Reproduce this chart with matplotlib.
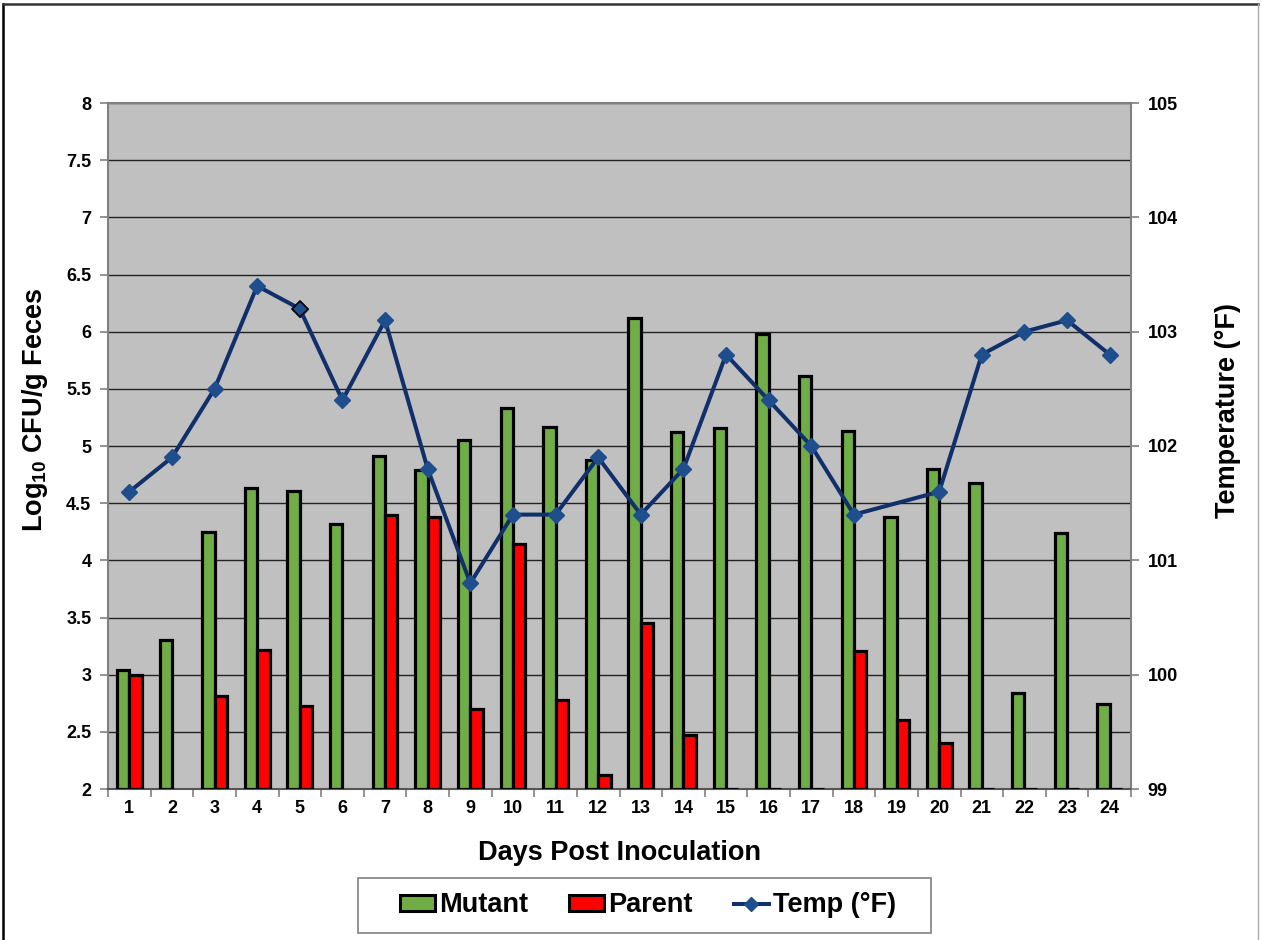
import matplotlib
matplotlib.use('Agg')
import matplotlib.pyplot as plt
import numpy as np
from matplotlib.patches import Patch, Rectangle
from matplotlib.lines import Line2D

plt.rcParams['font.family'] = ['Liberation Sans', 'DejaVu Sans']
plt.rcParams['font.weight'] = 'bold'
plt.rcParams['mathtext.fontset'] = 'custom'
plt.rcParams['mathtext.rm'] = 'Liberation Sans:bold'
plt.rcParams['mathtext.bf'] = 'Liberation Sans:bold'

days = list(range(1, 25))
mutant = [3.04, 3.30, 4.25, 4.63, 4.61, 4.32, 4.91, 4.79, 5.05, 5.33, 5.17, 4.88,
          6.12, 5.12, 5.16, 5.98, 5.61, 5.13, 4.38, 4.80, 4.68, 2.84, 4.24, 2.74]
parent = [3.00, None, 2.81, 3.22, 2.73, None, 4.40, 4.38, 2.70, 4.14, 2.78, 2.12,
          3.45, 2.47, 2.00, 2.00, 2.00, 3.21, 2.60, 2.40, 2.00, 2.00, 2.00, 2.00]
temp = [101.6, 101.9, 102.5, 103.4, 103.2, 102.4, 103.1, 101.8, 100.8, 101.4, 101.4, 101.9,
        101.4, 101.8, 102.8, 102.4, 102.0, 101.4, None, 101.6, 102.8, 103.0, 103.1, 102.8]

GREEN = '#70AD47'
RED = '#FF0000'
NAVY = '#112F6B'
MARK = '#1F4E8C'
BG = '#C0C0C0'

fig = plt.figure(figsize=(12.62, 9.40), dpi=100)
ax = fig.add_axes([108/1262, 1-789/940, (1131-108)/1262, (789-103)/940])
ax.set_facecolor(BG)

ymin, ymax = 2, 8
x = np.array(days, dtype=float)
w = 0.29
off = 0.145
mv = np.array(mutant, dtype=float)
ax.bar(x - off, mv - ymin, bottom=ymin, width=w, color=GREEN, edgecolor='black',
       linewidth=2.3, zorder=3)
pv = np.array([np.nan if v is None else v for v in parent], dtype=float)
ok = ~np.isnan(pv)
ax.bar(x[ok] + off, pv[ok] - ymin, bottom=ymin, width=w, color=RED, edgecolor='black',
       linewidth=2.3, zorder=3)

ax.set_xlim(0.5, 24.5)
ax.set_ylim(ymin, ymax)
ax.set_yticks(np.arange(2, 8.01, 0.5))
ax.set_yticklabels([('%g' % v) for v in np.arange(2, 8.01, 0.5)])
ax.yaxis.grid(True, color='#222222', linewidth=1.0, zorder=0)
ax.set_axisbelow(True)
ax.set_xticks(x)
ax.set_xticklabels([str(d) for d in days])
ax.set_xticks(np.arange(0.5, 24.51, 1), minor=True)
ax.tick_params(axis='x', which='major', length=0, pad=8, labelsize=13)
ax.tick_params(axis='x', which='minor', length=6, color='#808080', width=1.2)
ax.tick_params(axis='y', length=6, color='#808080', width=1.2, labelsize=13, pad=6)
for s in ['left', 'top', 'right']:
    ax.spines[s].set_color('#808080')
    ax.spines[s].set_linewidth(1.5)
ax.spines['bottom'].set_color('#555555')
ax.spines['bottom'].set_linewidth(1.5)

ax2 = ax.twinx()
ax2.set_ylim(99, 105)
ax2.set_yticks(np.arange(99, 105.1, 1))
ax2.set_yticklabels([str(v) for v in range(99, 106)])
ax2.tick_params(axis='y', length=6, color='#808080', width=1.2, labelsize=13, pad=6)
for s in ax2.spines.values():
    s.set_visible(False)
tv = np.array([np.nan if v is None else v for v in temp], dtype=float)
tok = ~np.isnan(tv)
ax2.plot(x[tok], tv[tok], color=NAVY, linewidth=2.9, marker='D', markersize=8.5,
         markerfacecolor=MARK, markeredgecolor=MARK, zorder=5)
# day-5 point appears with a dark edge in the reference
i5 = days.index(5)
ax2.plot([x[i5]], [tv[i5]], linestyle='none', marker='D', markersize=8.5,
         markerfacecolor=MARK, markeredgecolor='black', markeredgewidth=1.2, zorder=6)

fig.text(620/1262, 1-853/940, 'Days Post Inoculation', ha='center', va='center',
         fontsize=19.5, fontweight='bold')
fig.text(35/1262, 1-410/940, r'Log$_{\mathbf{10}}$ CFU/g Feces', ha='center', va='center',
         rotation=90, fontsize=19.5, fontweight='bold')
fig.text(1228/1262, 1-410/940, 'Temperature (°F)', ha='center', va='center',
         rotation=90, fontsize=19.5, fontweight='bold')

handles = [Patch(facecolor=GREEN, edgecolor='black', linewidth=2.2),
           Patch(facecolor=RED, edgecolor='black', linewidth=2.2),
           Line2D([0], [0], color=NAVY, linewidth=2.9, marker='D', markersize=7,
                  markerfacecolor=MARK, markeredgecolor=MARK)]
leg = fig.legend(handles, ['Mutant', 'Parent', 'Temp (°F)'], loc='center',
                 bbox_to_anchor=(648/1262, 1-905.5/940), ncol=3, fontsize=19.5,
                 frameon=False, handlelength=1.3, handleheight=0.55, handletextpad=0.15,
                 columnspacing=1.5, borderpad=0.55, borderaxespad=0)
fig.add_artist(Rectangle((358/1262, 1-933/940), (931-358)/1262, (933-878)/940,
                         transform=fig.transFigure, facecolor='none',
                         edgecolor='#808080', linewidth=1.2))

# outer frame lines
fig.add_artist(Line2D([3/1262, 3/1262], [0, 1-4/940], color='black', linewidth=1.8,
                      transform=fig.transFigure))
fig.add_artist(Line2D([3/1262, 1258/1262], [1-4/940, 1-4/940], color='#333333', linewidth=1.8,
                      transform=fig.transFigure))
fig.add_artist(Line2D([1258/1262, 1258/1262], [0, 1-4/940], color='#AAAAAA', linewidth=1.0,
                      transform=fig.transFigure))

fig.savefig('out.png', dpi=100, facecolor='white')
